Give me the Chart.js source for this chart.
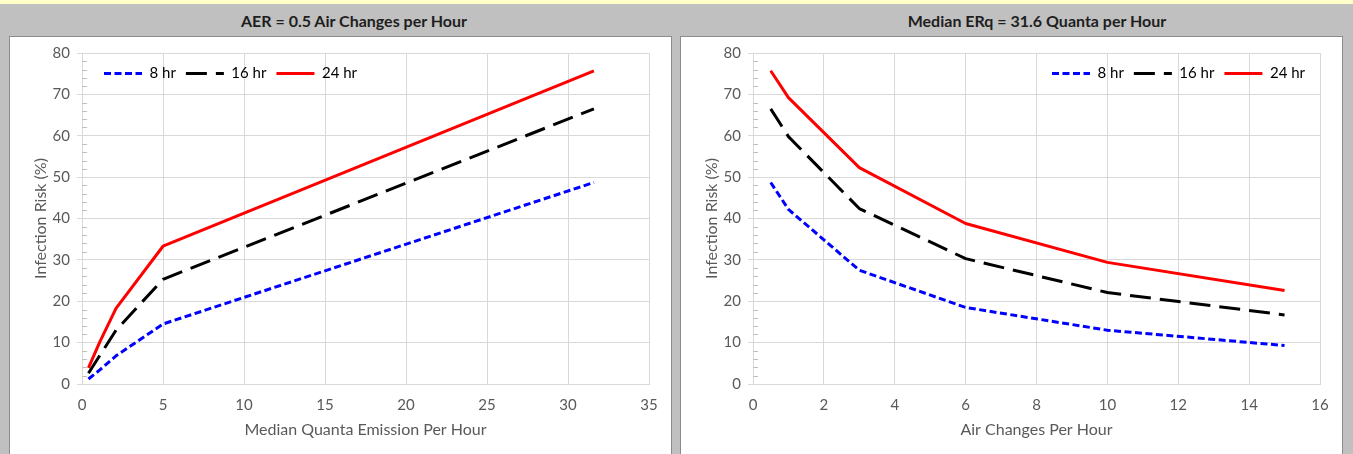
<!DOCTYPE html>
<html><head><meta charset="utf-8">
<script src="https://cdn.jsdelivr.net/npm/chart.js@4.4.1/dist/chart.umd.min.js"></script>
<style>
html,body{margin:0;padding:0;}
body{width:1353px;height:454px;background:#c0c0c0;position:relative;overflow:hidden;font-family:Lato,sans-serif;}
#strip{position:absolute;left:0;top:0;width:1353px;height:4px;background:#ffffc8;}
.title{position:absolute;top:11px;height:20px;line-height:20px;text-align:center;font-weight:bold;font-size:16px;color:#1e1e1e;white-space:nowrap;}
.panel{position:absolute;top:36px;width:661px;height:430px;background:#fff;border:1px solid #8c8c8c;border-bottom:none;}
.panel canvas{position:absolute;left:0;top:0;}
</style></head>
<body>
<div id="strip"></div>
<div class="title" style="left:154px;width:400px;">AER = 0.5 Air Changes per Hour</div>
<div class="title" style="left:837px;width:400px;">Median ERq = 31.6 Quanta per Hour</div>
<div class="panel" style="left:9px;"><canvas id="c1" width="661" height="417"></canvas></div>
<div class="panel" style="left:680px;"><canvas id="c2" width="661" height="417"></canvas></div>
<script>
// ---- Data ----
const seriesNames = ['8 hr', '16 hr', '24 hr'];
// Left chart: AER = 0.5, x = median quanta emission per hour
const quantaX = [0.4, 1.1, 2.1, 5.0, 31.6];
const quanta8hr = [1.2, 3.4, 6.8, 14.5, 48.7];
const quanta16hr = [2.6, 6.9, 13.0, 25.3, 66.5];
const quanta24hr = [3.9, 10.2, 18.3, 33.3, 75.7];
// Right chart: ERq = 31.6, x = air changes per hour
const aerX = [0.5, 1, 3, 6, 10, 15];
const aer8hr = [48.7, 42.2, 27.5, 18.5, 13.0, 9.3];
const aer16hr = [66.5, 59.8, 42.4, 30.3, 22.1, 16.7];
const aer24hr = [75.7, 69.2, 52.3, 38.8, 29.4, 22.6];
// Axis ranges / ticks
const yRange = [0, 80, 10];
const yMinorStep = 2;
const quantaXRange = [0, 35, 5];
const aerXRange = [0, 16, 2];

Chart.defaults.font.family = 'Lato';
Chart.defaults.animation = false;

const styles = [
  {borderColor: '#0000ff', borderDash: [7, 3.5]},
  {borderColor: '#000000', borderDash: [21, 9]},
  {borderColor: '#ff0000', borderDash: []}
];

function pts(xs, ys) { return xs.map((x, i) => ({x: x, y: ys[i]})); }

function makeDatasets(xs, yss) {
  return yss.map((ys, i) => Object.assign({
    label: seriesNames[i],
    data: pts(xs, ys),
    borderWidth: 3,
    pointRadius: 0,
    pointHoverRadius: 0,
    fill: false,
    tension: 0,
    borderCapStyle: 'butt',
    borderJoinStyle: 'round'
  }, styles[i]));
}

const minorTicks = {
  id: 'minorTicks',
  beforeDatasetsDraw(chart) {
    const y = chart.scales.y, ctx = chart.ctx, x0 = chart.chartArea.left;
    ctx.save();
    ctx.strokeStyle = '#bfbfbf';
    ctx.lineWidth = 1;
    for (let v = yRange[0]; v <= yRange[1]; v += yMinorStep) {
      if (v % yRange[2] === 0) continue;
      const py = Math.round(y.getPixelForValue(v)) + 0.5;
      ctx.beginPath(); ctx.moveTo(x0, py); ctx.lineTo(x0 + 5, py); ctx.stroke();
    }
    ctx.restore();
  }
};

// legend placed inside the plot area, laid out as a single row
function legendInside(dx, dy) {
  return {
    id: 'legendInside',
    beforeLayout(chart) {
      if (chart.legend) chart.legend.isHorizontal = () => true;
    },
    afterLayout(chart) {
      const ca = chart.chartArea, lg = chart.legend;
      lg.left = ca.left + dx; lg.right = ca.right + dx;
      lg.top = ca.top + dy; lg.bottom = ca.bottom + dy;
    }
  };
}

function legendLabels(chart) {
  const items = Chart.defaults.plugins.legend.labels.generateLabels(chart);
  items.forEach(it => {
    const ds = chart.data.datasets[it.datasetIndex];
    it.lineDash = ds.borderDash;
    it.lineWidth = ds.borderWidth;
    it.strokeStyle = ds.borderColor;
    it.fillStyle = ds.borderColor;
    it.lineCap = 'butt';
  });
  return items;
}

function makeChart(id, datasets, xr, xTitle, align, dx, dy) {
  return new Chart(document.getElementById(id), {
    type: 'line',
    data: {datasets: datasets},
    plugins: [minorTicks, legendInside(dx, dy)],
    options: {
      responsive: false,
      animation: false,
      layout: {padding: {left: 20, right: 22, top: 16, bottom: 15}},
      plugins: {
        tooltip: {enabled: false},
        legend: {
          position: 'chartArea',
          align: align,
          labels: {
            usePointStyle: true,
            pointStyle: 'line',
            boxWidth: 38,
            pointStyleWidth: 38,
            padding: 10,
            color: '#000000',
            font: {size: 15},
            generateLabels: legendLabels
          }
        }
      },
      scales: {
        x: {
          type: 'linear',
          min: xr[0], max: xr[1],
          ticks: {stepSize: xr[2], color: '#595959', font: {size: 15}, padding: 12},
          grid: {color: '#d9d9d9', drawTicks: false},
          border: {color: '#d9d9d9'},
          title: {display: true, text: xTitle, color: '#595959', font: {size: 16}, padding: {top: 8, bottom: 0}},
          afterFit(s) { s.height = 55; }
        },
        y: {
          min: yRange[0], max: yRange[1],
          ticks: {stepSize: yRange[2], color: '#595959', font: {size: 15}, padding: 7},
          grid: {color: '#d9d9d9', tickLength: 5},
          border: {color: '#d9d9d9'},
          title: {display: true, text: 'Infection Risk (%)', color: '#595959', font: {size: 16}, padding: {top: 1, bottom: 0}},
          afterFit(s) { s.width = 52; }
        }
      }
    }
  });
}

makeChart('c1', makeDatasets(quantaX, [quanta8hr, quanta16hr, quanta24hr]), quantaXRange,
  'Median Quanta Emission Per Hour', 'start', 12, 3);
makeChart('c2', makeDatasets(aerX, [aer8hr, aer16hr, aer24hr]), aerXRange,
  'Air Changes Per Hour', 'end', -5, 3);
</script>
</body></html>
